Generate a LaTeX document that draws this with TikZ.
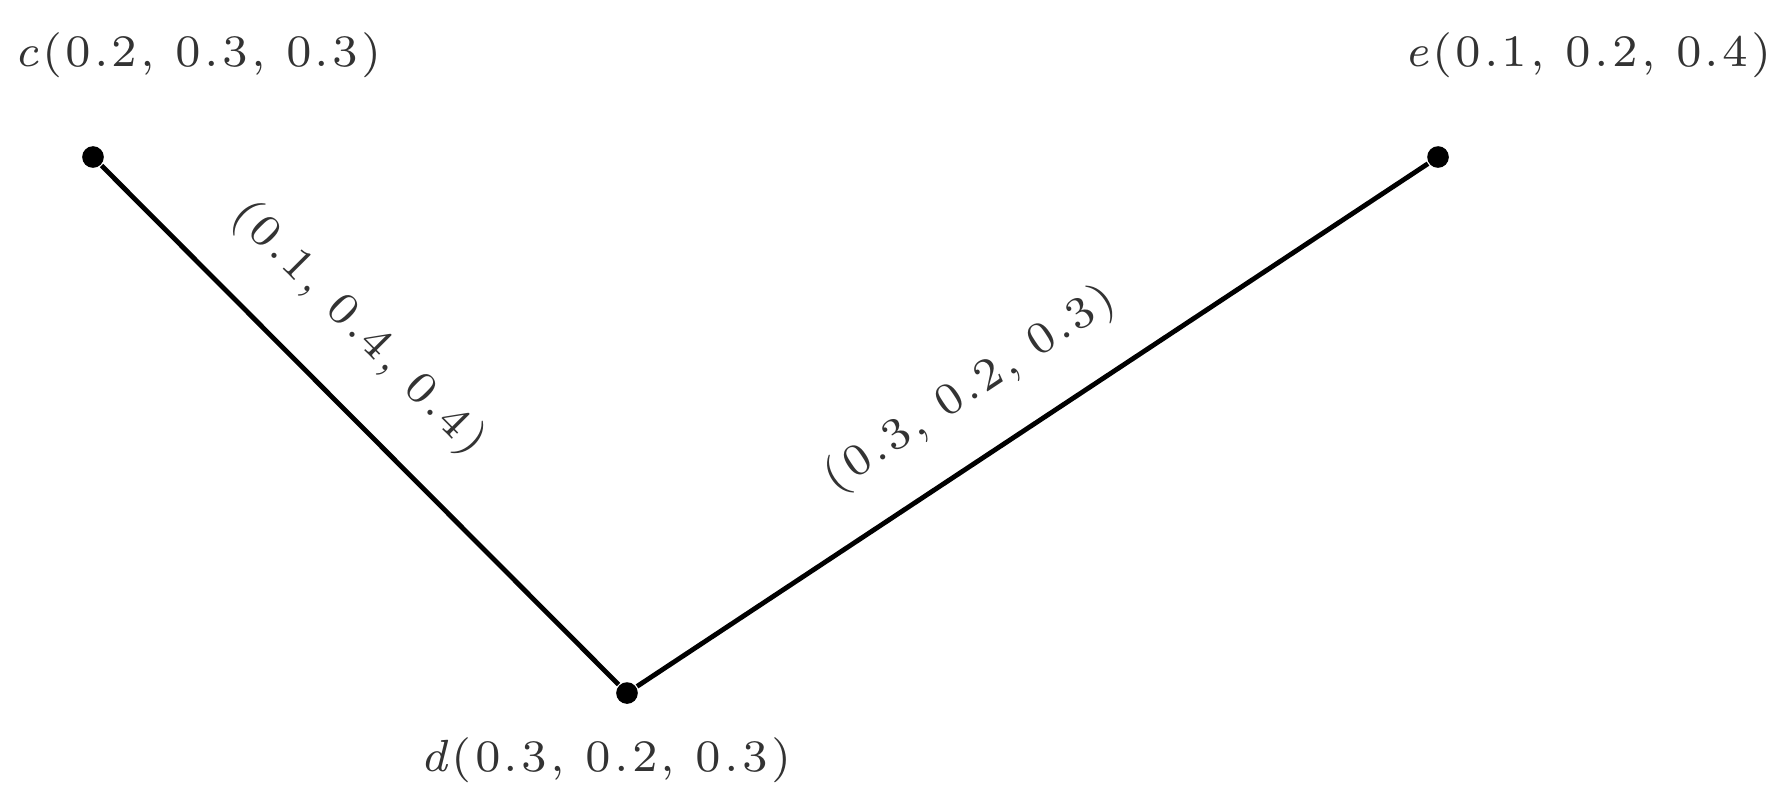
\documentclass[tikz,border=0pt]{standalone}
\usepackage{fontspec}
\newfontfamily\lblfont{Latin Modern Roman}[LetterSpace=7]
\newcommand{\lbl}[1]{{\fontsize{7.5}{9}\selectfont\lblfont #1}}
\begin{document}
\begin{tikzpicture}[x=0.1663pt,y=-0.1663pt,
  vdot/.style={circle,fill=black,inner sep=0pt,minimum size=3.6pt},
  vlabel/.style={inner sep=0pt,text=black!80},
  elabel/.style={sloped,inner sep=0pt,text=black!80},
  edge/.style={draw=black,line width=0.8pt}]
\useasboundingbox (0,0) rectangle (1786,800);
\node[vdot] (c) at (93,157) {};
\node[vdot] (e) at (1438,157) {};
\node[vdot] (d) at (627,693) {};
\node[vlabel] (cl) at (198,55) {\lbl{\textit{c}(0.2, 0.3, 0.3)}};
\node[vlabel] (el) at (1588,55) {\lbl{\textit{e}(0.1, 0.2, 0.4)}};
\node[vlabel] (dl) at (606,760) {\lbl{\textit{d}(0.3, 0.2, 0.3)}};
\draw[edge] (c) -- node[elabel,pos=0.405,above=7pt] (l1) {\lbl{(0.1, 0.4, 0.4)}} (d);
\draw[edge] (d) -- node[elabel,pos=0.466,above=6.5pt] (l2) {\lbl{(0.3, 0.2, 0.3)}} (e);
\end{tikzpicture}
\end{document}
